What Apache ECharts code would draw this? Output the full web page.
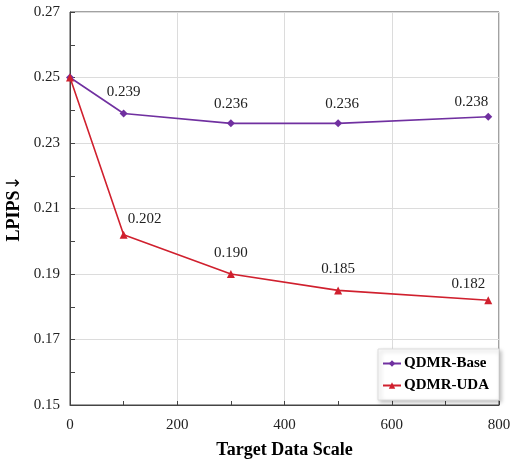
<!DOCTYPE html>
<html><head><meta charset="utf-8">
<script src="https://cdn.jsdelivr.net/npm/echarts@6/dist/echarts.min.js"></script>
<style>html,body{margin:0;padding:0;background:#fff}#c{width:512px;height:459px}</style>
</head><body><div id="c"></div>
<script>
const xValues = [0, 100, 300, 500, 780];
const baseValues = [0.250, 0.239, 0.236, 0.236, 0.238];
const udaValues = [0.250, 0.202, 0.190, 0.185, 0.182];
const seriesNames = ['QDMR-Base', 'QDMR-UDA'];
const xTicks = [0, 200, 400, 600, 800];
const yTicks = [0.15, 0.17, 0.19, 0.21, 0.23, 0.25, 0.27];

const FONT = 'Liberation Serif';
const baseLabel = [null, {dy: 18, dx: 0}, {dy: 16, dx: 0}, {dy: 16, dx: 4}, {dy: 11, dx: -17}];
const udaLabel = [null, {dy: 12, dx: 21}, {dy: 17, dx: 0}, {dy: 18, dx: 0}, {dy: 13, dx: -20}];

function build(vals, lab) {
  return vals.map((v, i) => {
    const item = { value: [xValues[i], v] };
    if (lab[i]) {
      item.label = { show: true, position: 'top', distance: lab[i].dy - 8, offset: [lab[i].dx, 0],
        formatter: (p) => p.value[1].toFixed(3) };
    } else {
      item.label = { show: false };
    }
    return item;
  });
}

const chart = echarts.init(document.getElementById('c'), null, {renderer: 'canvas'});
const axisColor = '#444';
chart.setOption({
  animation: false,
  textStyle: { fontFamily: FONT },
  grid: { left: 70, right: 13, top: 12, bottom: 54, containLabel: false, outerBoundsMode: 'none',
    show: true, borderColor: axisColor, borderWidth: 1, backgroundColor: 'transparent' },
  xAxis: {
    type: 'value', min: xTicks[0], max: xTicks[xTicks.length - 1], interval: 200,
    name: 'Target Data Scale', nameLocation: 'middle', nameGap: 36,
    nameTextStyle: { fontFamily: FONT, fontWeight: 'bold', fontSize: 18, color: '#000' },
    axisLine: { lineStyle: { color: axisColor, width: 1 } },
    axisTick: { inside: true, length: 4, lineStyle: { color: axisColor } },
    minorTick: { show: true, splitNumber: 2, length: 4, lineStyle: { color: axisColor } },
    axisLabel: { fontFamily: FONT, fontSize: 15, color: '#222', margin: 13 },
    splitLine: { show: true, lineStyle: { color: '#dcdcdc', width: 1 } }
  },
  yAxis: {
    type: 'value', min: yTicks[0], max: yTicks[yTicks.length - 1], interval: 0.02,
    name: 'LPIPS{a|\u2193}', nameLocation: 'middle', nameGap: 44,
    nameTextStyle: { fontFamily: FONT, fontWeight: 'bold', fontSize: 18, color: '#000',
      rich: { a: { fontFamily: 'DejaVu Sans', fontWeight: 'normal', fontSize: 18, color: '#000' } } },
    axisLine: { show: true, lineStyle: { color: axisColor, width: 1 } },
    axisTick: { show: true, inside: true, length: 5, lineStyle: { color: axisColor } },
    minorTick: { show: true, splitNumber: 2, length: 5, lineStyle: { color: axisColor } },
    axisLabel: { fontFamily: FONT, fontSize: 15, color: '#222', margin: 10, formatter: (v) => v.toFixed(2) },
    splitLine: { show: true, lineStyle: { color: '#dcdcdc', width: 1 } }
  },
  legend: {
    orient: 'vertical', right: 13, bottom: 59, itemWidth: 18, itemHeight: 8, itemGap: 7,
    padding: [7, 10, 7, 4],
    backgroundColor: '#fff', borderColor: '#ddd', borderWidth: 1,
    shadowBlur: 4, shadowColor: 'rgba(0,0,0,0.25)', shadowOffsetX: 2, shadowOffsetY: 2,
    textStyle: { fontFamily: FONT, fontWeight: 'bold', fontSize: 15, color: '#000', padding: [0, 0, 0, -2] },
    data: seriesNames
  },
  series: [
    { name: seriesNames[0], type: 'line', data: build(baseValues, baseLabel),
      symbol: 'diamond', symbolSize: 8, itemStyle: { color: '#7030A0' },
      lineStyle: { color: '#7030A0', width: 1.6 },
      label: { fontFamily: FONT, fontSize: 15, color: '#222' }, z: 3 },
    { name: seriesNames[1], type: 'line', data: build(udaValues, udaLabel),
      symbol: 'triangle', symbolSize: 8, itemStyle: { color: '#D0202E' },
      lineStyle: { color: '#D0202E', width: 1.6 },
      label: { fontFamily: FONT, fontSize: 15, color: '#222' }, z: 4 }
  ]
});
</script></body></html>
